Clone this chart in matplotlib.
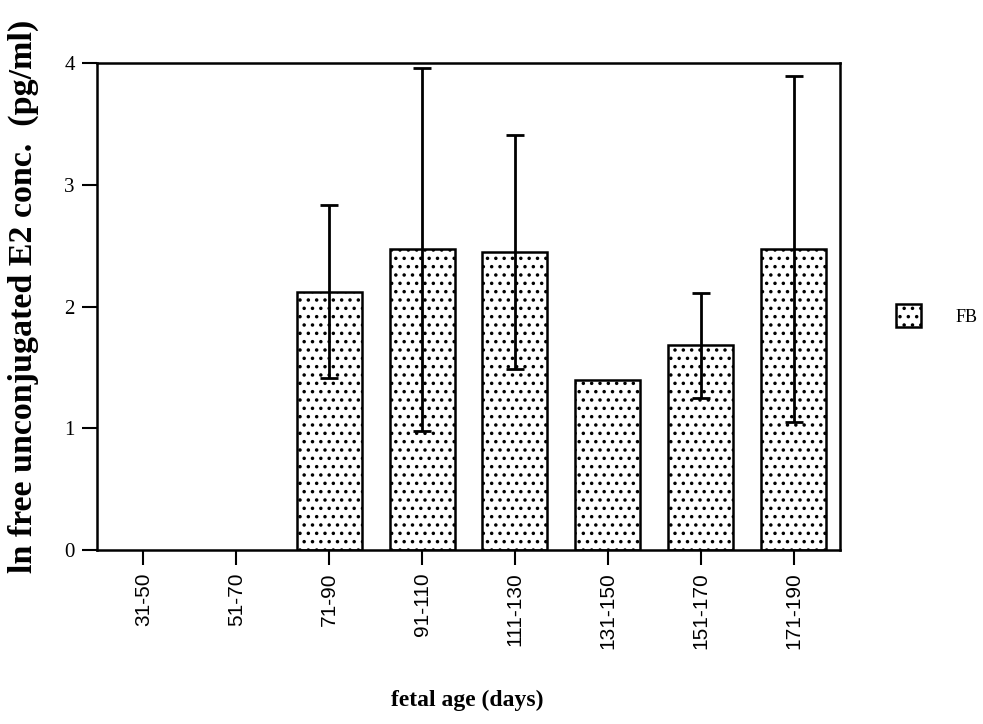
import numpy as np
import matplotlib
matplotlib.use('Agg')
import matplotlib.pyplot as plt

# fetal age groups and mean ln E2 (nan = no data)
ageGroups = ['31-50', '51-70', '71-90', '91-110', '111-130', '131-150', '151-170', '171-190']
meanE2 = [np.nan, np.nan, 2.12, 2.47, 2.45, 1.40, 1.68, 2.47]
sdE2 = [np.nan, np.nan, 0.71, 1.49, 0.96, np.nan, 0.43, 1.42]
seriesName = 'FB'

plt.rcParams['hatch.linewidth'] = 1.3
plt.rcParams['hatch.color'] = '#444444'
plt.rcParams['font.family'] = 'Liberation Serif'

fig = plt.figure(figsize=(9.83, 7.24), dpi=100)
ax = fig.add_axes([0.0987, 0.2403, 0.7558, 0.6727])

x = np.arange(len(ageGroups))
bars = ax.bar(x, meanE2, width=0.7, color='white', edgecolor='black',
              linewidth=1.8, hatch='..', label=seriesName, zorder=2)
ax.errorbar(x, meanE2, yerr=sdE2, fmt='none', ecolor='black', elinewidth=2,
            capsize=6.5, capthick=2, zorder=3)

ax.set_xlim(-0.5, len(ageGroups) - 0.5)
ax.set_ylim(0, 4)
ax.set_yticks([0, 1, 2, 3, 4])
ax.set_xticks(x)
ax.set_xticklabels(ageGroups, rotation=90, family='Liberation Sans', fontsize=15)
ax.tick_params(axis='y', direction='out', length=11, width=1.5, labelsize=15, pad=5)
ax.tick_params(axis='x', direction='out', length=11, width=1.5, pad=5)
for s in ax.spines.values():
    s.set_linewidth(1.8)

ax.set_ylabel('ln free unconjugated E2 conc.  (pg/ml)', fontsize=24.5, fontweight='bold')
ax.yaxis.set_label_coords(-0.078, 0.52)
fig.text(0.475, 0.033, 'fetal age (days)', ha='center', va='center', fontsize=17, fontweight='bold')

fig.legend(handles=[bars], labels=[seriesName], loc='center left', bbox_to_anchor=(0.895, 0.564),
           frameon=False, fontsize=13, handlelength=1.4, handleheight=1.6, handletextpad=1.9)

plt.savefig('out.png', dpi=100)
